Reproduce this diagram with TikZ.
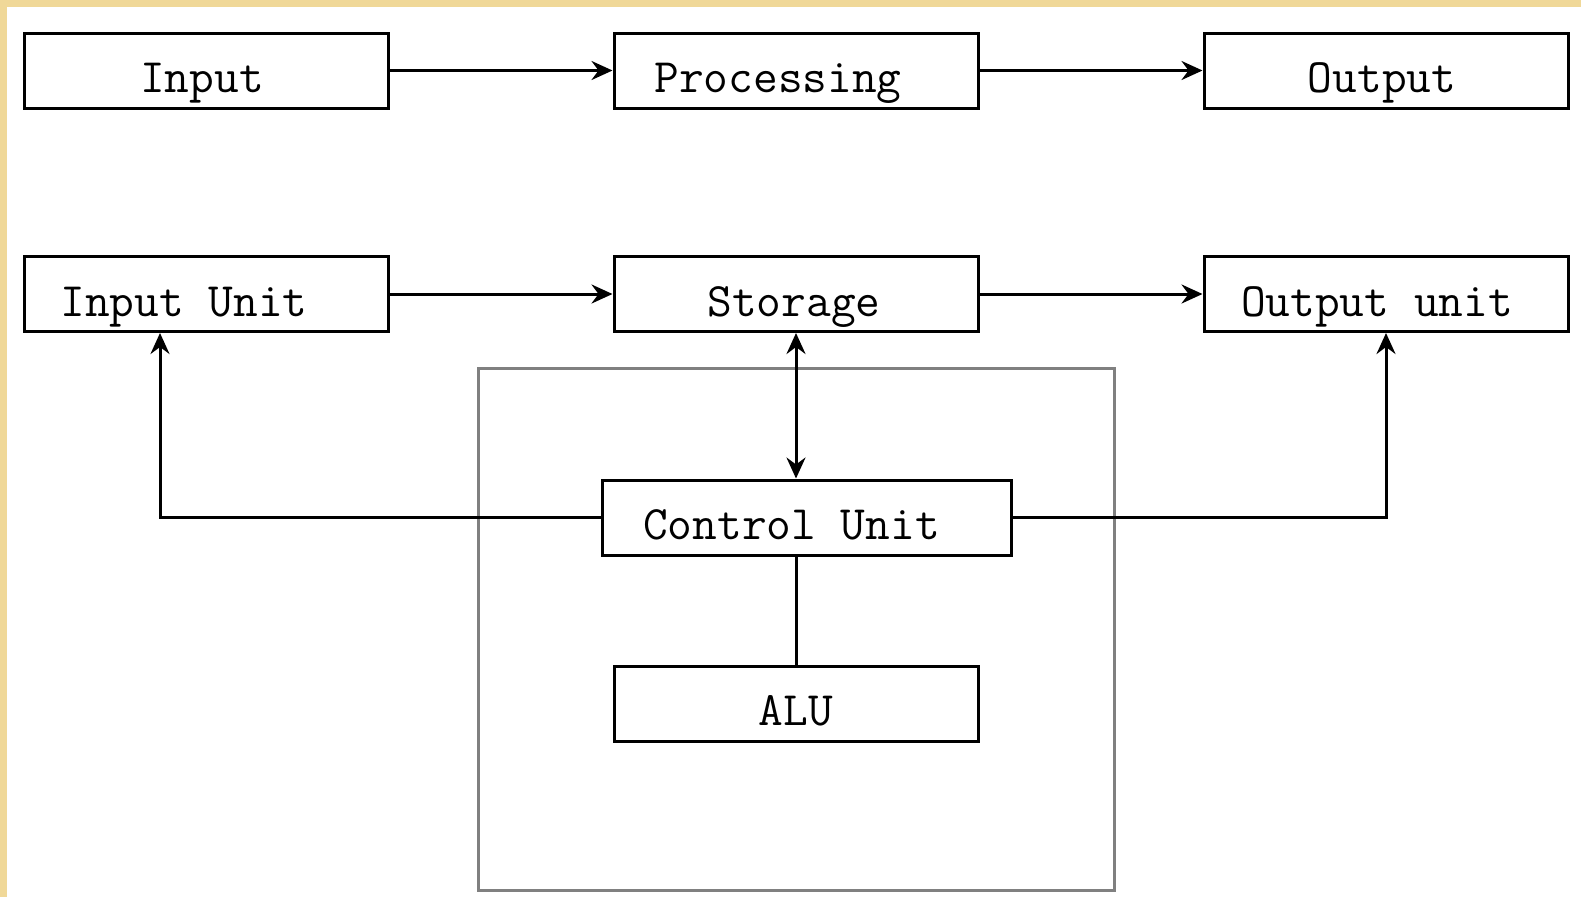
\documentclass[tikz,border=0pt]{standalone}
\usepackage{fontspec}
\usetikzlibrary{arrows.meta}
\definecolor{parch}{RGB}{240,216,152}
\definecolor{framegray}{RGB}{128,128,128}
\tikzset{
  box/.style={draw=black, line width=3pt, fill=white, inner sep=0pt,
    minimum width=364pt, minimum height=75pt,
    font=\ttfamily\fontsize{48}{56}\selectfont, text height=48pt, text depth=4pt},
  tshift/.style={execute at begin node={\hspace*{#1pt}}, execute at end node={\hspace*{-#1pt}}},
  arr/.style={line width=3pt, -{Stealth[length=21pt,width=19pt,inset=7pt]}},
  darr/.style={line width=3pt, {Stealth[length=21pt,width=19pt,inset=7pt]}-{Stealth[length=21pt,width=19pt,inset=7pt]}},
  plain/.style={line width=3pt},
  frame/.style={draw=framegray, line width=3pt, inner sep=0pt}
}
\begin{document}
\begin{tikzpicture}[x=1pt,y=-1pt]
\useasboundingbox (0,0) rectangle (1581,897);
\fill[white] (0,0) rectangle (1581,897);
\fill[parch] (0,0) rectangle (1581,7);
\fill[parch] (0,0) rectangle (7,897);
% frame
\node[frame, minimum width=636pt, minimum height=522pt] (fr) at (796,629) {};
% row 1
\node[box, tshift=-4] (in) at (206,70.5) {Input};
\node[box, tshift=-18] (proc) at (796,70.5) {Processing};
\node[box, tshift=-4] (out) at (1386,70.5) {Output};
% row 2
\node[box, tshift=-22] (inu) at (206,294) {Input Unit};
\node[box, tshift=-2] (sto) at (796,294) {Storage};
\node[box, tshift=-9] (outu) at (1386,294) {Output unit};
% control and ALU
\node[box, minimum width=409pt, tshift=-15] (cu) at (806.5,517.5) {Control Unit};
\node[box] (alu) at (796,703.5) {ALU};
% connectors
\draw[arr] (in) -- (proc);
\draw[arr] (proc) -- (out);
\draw[arr] (inu) -- (sto);
\draw[arr] (sto) -- (outu);
\draw[darr] (sto.south) -- (sto.south |- cu.north);
\draw[plain] (alu.north |- cu.south) -- (alu.north);
\draw[arr] (cu.west) -| ([xshift=-46pt]inu.south);
\draw[arr] (cu.east) -| (outu.south);
\end{tikzpicture}
\end{document}
